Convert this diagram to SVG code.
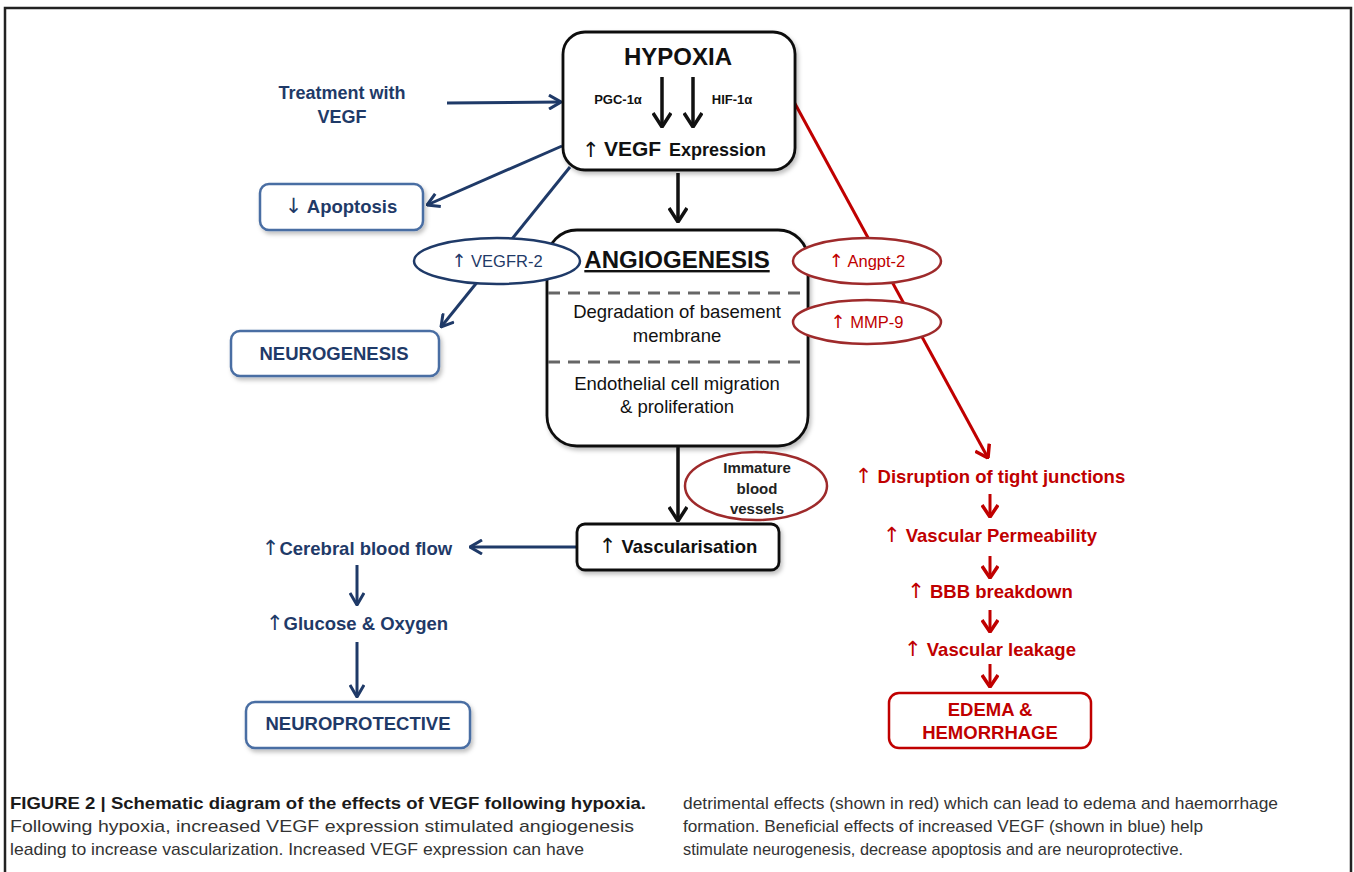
<svg xmlns="http://www.w3.org/2000/svg" width="1354" height="872" viewBox="0 0 1354 872">
<defs>
<style>
text{font-family:"Liberation Sans",Arial,sans-serif}
.ar{font-family:"DejaVu Sans",sans-serif;font-weight:normal}
.b{font-weight:bold}
.navy{fill:#1f3a68}
.red{fill:#c00000}
.blk{fill:#111}
.bbox{fill:#fff;stroke:#4a6ea3;stroke-width:2.5}
.kbox{fill:#fff;stroke:#111;stroke-width:2.8}
.rbox{fill:#fff;stroke:#c00000;stroke-width:2.5}
.nell{fill:#fff;stroke:#1f3a68;stroke-width:2.5}
.rell{fill:#fff;stroke:#9e2a2b;stroke-width:2.5}
.nline{stroke:#1f3a68;stroke-width:3;fill:none}
.kline{stroke:#111;stroke-width:3.5;fill:none}
.rline{stroke:#c00000;stroke-width:3;fill:none}
.dash{stroke:#666;stroke-width:3;stroke-dasharray:12 8}
.cap{font-size:17px;fill:#333}
</style>
<filter id="sh" x="-10%" y="-10%" width="130%" height="140%">
<feDropShadow dx="2" dy="3" stdDeviation="2" flood-color="#000" flood-opacity="0.25"/>
</filter>
<marker id="an" markerUnits="userSpaceOnUse" viewBox="0 0 14 16" refX="13" refY="8" markerWidth="14" markerHeight="16" orient="auto">
<path d="M1,1 L13,8 L1,15" fill="none" stroke="#1f3a68" stroke-width="3"/>
</marker>
<marker id="ak" markerUnits="userSpaceOnUse" viewBox="0 0 16 20" refX="15" refY="10" markerWidth="16" markerHeight="20" orient="auto">
<path d="M1,1 L15,10 L1,19" fill="none" stroke="#111" stroke-width="3.5"/>
</marker>
<marker id="ar" markerUnits="userSpaceOnUse" viewBox="0 0 14 18" refX="13" refY="9" markerWidth="14" markerHeight="18" orient="auto">
<path d="M1,1 L13,9 L1,17" fill="none" stroke="#c00000" stroke-width="3.5"/>
</marker>
</defs>
<rect width="1354" height="872" fill="#fff"/>
<!-- frame -->
<path d="M5,872 V8 H1351 V872" fill="none" stroke="#222" stroke-width="2.5"/>

<!-- connectors -->
<g id="connectors">
<line class="nline" x1="447" y1="103" x2="561" y2="102" marker-end="url(#an)"/>
<line class="nline" x1="562" y1="146" x2="427" y2="205" marker-end="url(#an)"/>
<line class="nline" x1="570" y1="167" x2="441" y2="327" marker-end="url(#an)"/>
<line class="kline" x1="678" y1="173" x2="678" y2="222" marker-end="url(#ak)"/>
<line class="rline" x1="793" y1="100" x2="988" y2="458" marker-end="url(#ar)"/>
<line class="kline" x1="678" y1="447" x2="678" y2="521" marker-end="url(#ak)"/>
<line class="nline" x1="576" y1="547" x2="470" y2="547" marker-end="url(#an)"/>
<line class="nline" x1="357" y1="565" x2="357" y2="605" marker-end="url(#an)"/>
<line class="nline" x1="357" y1="642" x2="357" y2="697" marker-end="url(#an)"/>
<line class="rline" x1="990" y1="494" x2="990" y2="517" marker-end="url(#ar)"/>
<line class="rline" x1="990" y1="556" x2="990" y2="578" marker-end="url(#ar)"/>
<line class="rline" x1="990" y1="610" x2="990" y2="632" marker-end="url(#ar)"/>
<line class="rline" x1="990" y1="664" x2="990" y2="687" marker-end="url(#ar)"/>
</g>

<g id="hypoxia">
<rect class="kbox" x="563" y="32" width="232" height="138" rx="22" filter="url(#sh)"/>
<text x="678" y="65" text-anchor="middle" class="b blk" font-size="24">HYPOXIA</text>
<line class="kline" x1="662" y1="77" x2="662" y2="127" marker-end="url(#ak)"/>
<line class="kline" x1="693" y1="77" x2="693" y2="127" marker-end="url(#ak)"/>
<text x="618" y="104" text-anchor="middle" class="b blk" font-size="13">PGC-1α</text>
<text x="732" y="104" text-anchor="middle" class="b blk" font-size="13">HIF-1α</text>
<text x="582" y="157" class="ar blk" font-size="21">↑</text>
<text x="604" y="156" class="b blk" font-size="21">VEGF</text>
<text x="669" y="156" class="b blk" font-size="18">Expression</text>
</g>

<g id="treatment">
<text x="342" y="99" text-anchor="middle" class="b navy" font-size="18">Treatment with</text>
<text x="342" y="123" text-anchor="middle" class="b navy" font-size="18">VEGF</text>
</g>

<g id="apoptosis">
<rect class="bbox" x="260" y="184" width="163" height="46" rx="9" filter="url(#sh)"/>
<text x="341" y="213" text-anchor="middle" class="b navy" font-size="18.5"><tspan class="ar" font-size="21">↓</tspan> Apoptosis</text>
</g>

<g id="angiogenesis">
<rect class="kbox" x="547" y="230" width="261" height="216" rx="30" filter="url(#sh)"/>
<text x="677" y="268" text-anchor="middle" class="b blk" font-size="24" text-decoration="underline">ANGIOGENESIS</text>
<line class="dash" x1="548" y1="293" x2="807" y2="293"/>
<line class="dash" x1="548" y1="362" x2="807" y2="362"/>
<text x="677" y="318" text-anchor="middle" class="blk" font-size="18.5">Degradation of basement</text>
<text x="677" y="342" text-anchor="middle" class="blk" font-size="18.5">membrane</text>
<text x="677" y="390" text-anchor="middle" class="blk" font-size="18.5">Endothelial cell migration</text>
<text x="677" y="413" text-anchor="middle" class="blk" font-size="18.5">&amp; proliferation</text>
</g>

<g id="vegfr2">
<ellipse class="nell" cx="497" cy="261" rx="83" ry="23"/>
<text x="497" y="267" text-anchor="middle" class="navy" font-size="16.5"><tspan class="ar" font-size="18">↑</tspan> VEGFR-2</text>
</g>

<g id="neurogenesis">
<rect class="bbox" x="231" y="331" width="208" height="45" rx="9" filter="url(#sh)"/>
<text x="334" y="360" text-anchor="middle" class="b navy" font-size="18.5">NEUROGENESIS</text>
</g>

<g id="angpt2">
<ellipse class="rell" cx="867" cy="261" rx="74" ry="23"/>
<text x="867" y="267" text-anchor="middle" class="red" font-size="16.5"><tspan class="ar" font-size="18">↑</tspan> Angpt-2</text>
</g>

<g id="mmp9">
<ellipse class="rell" cx="867" cy="322" rx="74" ry="22"/>
<text x="867" y="328" text-anchor="middle" class="red" font-size="16.5"><tspan class="ar" font-size="18">↑</tspan> MMP-9</text>
</g>

<g id="immature">
<ellipse class="rell" cx="756" cy="486" rx="71" ry="34"/>
<text x="757" y="473" text-anchor="middle" class="b" fill="#222" font-size="15">Immature</text>
<text x="757" y="494" text-anchor="middle" class="b" fill="#222" font-size="15">blood</text>
<text x="757" y="514" text-anchor="middle" class="b" fill="#222" font-size="15">vessels</text>
</g>

<g id="vascularisation">
<rect class="kbox" x="577" y="524" width="202" height="46" rx="8" filter="url(#sh)"/>
<text x="678" y="553" text-anchor="middle" class="b blk" font-size="18.5"><tspan class="ar" font-size="21">↑</tspan> Vascularisation</text>
</g>

<g id="cerebral">
<text x="357" y="555" text-anchor="middle" class="b navy" font-size="18.5"><tspan class="ar" font-size="21">↑</tspan>Cerebral blood flow</text>
</g>
<g id="glucose">
<text x="357" y="630" text-anchor="middle" class="b navy" font-size="18.5"><tspan class="ar" font-size="21">↑</tspan>Glucose &amp; Oxygen</text>
</g>
<g id="neuroprotective">
<rect class="bbox" x="246" y="702" width="224" height="46" rx="9" filter="url(#sh)"/>
<text x="358" y="730" text-anchor="middle" class="b navy" font-size="18.5">NEUROPROTECTIVE</text>
</g>

<g id="disruption">
<text x="990" y="483" text-anchor="middle" class="b red" font-size="18.5"><tspan class="ar" font-size="21">↑</tspan> Disruption of tight junctions</text>
</g>
<g id="permeability">
<text x="990" y="542" text-anchor="middle" class="b red" font-size="18.5"><tspan class="ar" font-size="21">↑</tspan> Vascular Permeability</text>
</g>
<g id="bbb">
<text x="990" y="598" text-anchor="middle" class="b red" font-size="18.5"><tspan class="ar" font-size="21">↑</tspan> BBB breakdown</text>
</g>
<g id="leakage">
<text x="990" y="656" text-anchor="middle" class="b red" font-size="18.5"><tspan class="ar" font-size="21">↑</tspan> Vascular leakage</text>
</g>
<g id="edema">
<rect class="rbox" x="889" y="693" width="202" height="55" rx="10"/>
<text x="990" y="716" text-anchor="middle" class="b red" font-size="18.5">EDEMA &amp;</text>
<text x="990" y="739" text-anchor="middle" class="b red" font-size="18.5">HEMORRHAGE</text>
</g>

<g id="caption">
<text x="10" y="809" font-size="17" font-weight="bold" fill="#1a1a1a" textLength="636" lengthAdjust="spacingAndGlyphs">FIGURE 2 | Schematic diagram of the effects of VEGF following hypoxia.</text>
<text x="10" y="832" class="cap" textLength="624" lengthAdjust="spacingAndGlyphs">Following hypoxia, increased VEGF expression stimulated angiogenesis</text>
<text x="10" y="855" class="cap" textLength="574" lengthAdjust="spacingAndGlyphs">leading to increase vascularization. Increased VEGF expression can have</text>
<text x="683" y="809" class="cap" textLength="595" lengthAdjust="spacingAndGlyphs">detrimental effects (shown in red) which can lead to edema and haemorrhage</text>
<text x="683" y="832" class="cap" textLength="520" lengthAdjust="spacingAndGlyphs">formation. Beneficial effects of increased VEGF (shown in blue) help</text>
<text x="683" y="855" class="cap" textLength="500" lengthAdjust="spacingAndGlyphs">stimulate neurogenesis, decrease apoptosis and are neuroprotective.</text>
</g>
</svg>
